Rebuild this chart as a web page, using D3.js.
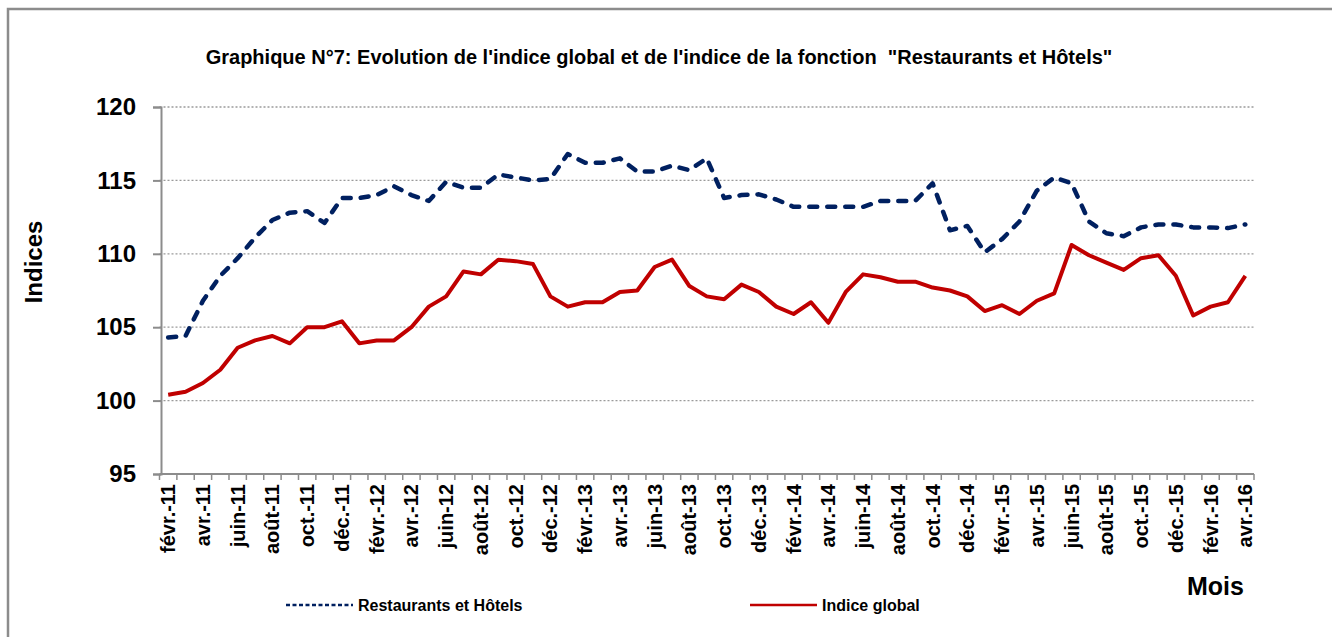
<!DOCTYPE html>
<html>
<head>
<meta charset="utf-8">
<script src="https://cdn.jsdelivr.net/npm/d3@7"></script>
<style>
  body { margin: 0; background: #fff; }
  .narrow { font-family: "Liberation Sans Narrow", "Arial Narrow", "Liberation Sans", sans-serif; font-weight: bold; }
  .wide { font-family: "Liberation Sans", Arial, sans-serif; font-weight: bold; }
</style>
</head>
<body>
<div id="chart"></div>
<script>
// mois (févr.-11 .. avr.-16)
const months = [
  "févr.-11","mars-11","avr.-11","mai-11","juin-11","juil.-11","août-11","sept.-11","oct.-11","nov.-11","déc.-11",
  "janv.-12","févr.-12","mars-12","avr.-12","mai-12","juin-12","juil.-12","août-12","sept.-12","oct.-12","nov.-12","déc.-12",
  "janv.-13","févr.-13","mars-13","avr.-13","mai-13","juin-13","juil.-13","août-13","sept.-13","oct.-13","nov.-13","déc.-13",
  "janv.-14","févr.-14","mars-14","avr.-14","mai-14","juin-14","juil.-14","août-14","sept.-14","oct.-14","nov.-14","déc.-14",
  "janv.-15","févr.-15","mars-15","avr.-15","mai-15","juin-15","juil.-15","août-15","sept.-15","oct.-15","nov.-15","déc.-15",
  "janv.-16","févr.-16","mars-16","avr.-16"
];

// Restaurants et Hôtels
const restoHotels = [
  104.3, 104.4, 106.8, 108.5, 109.7, 111.1, 112.3, 112.8, 112.9, 112.1, 113.8,
  113.8, 114.0, 114.6, 114.0, 113.6, 114.9, 114.5, 114.5, 115.4, 115.2, 115.0, 115.1,
  116.8, 116.2, 116.2, 116.5, 115.6, 115.6, 116.0, 115.7, 116.5, 113.8, 114.0, 114.05,
  113.7, 113.2, 113.2, 113.2, 113.2, 113.2, 113.6, 113.6, 113.6, 114.8, 111.6, 111.9,
  110.1, 111.0, 112.2, 114.3, 115.2, 114.8, 112.2, 111.4, 111.2, 111.8, 112.0, 112.0,
  111.8, 111.8, 111.75, 112.0
];

// Indice global
const indiceGlobal = [
  100.4, 100.6, 101.2, 102.1, 103.6, 104.1, 104.4, 103.9, 105.0, 105.0, 105.4,
  103.9, 104.1, 104.1, 105.0, 106.4, 107.1, 108.8, 108.6, 109.6, 109.5, 109.3, 107.1,
  106.4, 106.7, 106.7, 107.4, 107.5, 109.1, 109.6, 107.8, 107.1, 106.9, 107.9, 107.4,
  106.4, 105.9, 106.7, 105.3, 107.4, 108.6, 108.4, 108.1, 108.1, 107.7, 107.5, 107.1,
  106.1, 106.5, 105.9, 106.8, 107.3, 110.6, 109.9, 109.4, 108.9, 109.7, 109.9, 108.5,
  105.8, 106.4, 106.7, 108.5
];

const yTicks = [95, 100, 105, 110, 115, 120];

const W = 1332, H = 637;
const margin = {top: 107, right: 78, bottom: 163, left: 159.5};

const svg = d3.select("#chart").append("svg")
    .attr("width", W)
    .attr("height", H);

// cadre
svg.append("rect")
    .attr("x", 8).attr("y", 9)
    .attr("width", W).attr("height", H)
    .attr("fill", "none")
    .attr("stroke", "#8c8c8c")
    .attr("stroke-width", 2.5);

const x = d3.scaleBand()
    .domain(months)
    .range([margin.left, W - margin.right])
    .padding(0);

const y = d3.scaleLinear()
    .domain([95, 120])
    .range([H - margin.bottom, margin.top]);

// grille
svg.append("g")
    .selectAll("line")
    .data(yTicks.filter(d => d > 95))
    .join("line")
    .attr("x1", margin.left)
    .attr("x2", W - margin.right)
    .attr("y1", d => y(d))
    .attr("y2", d => y(d))
    .attr("stroke", "#9a9a9a")
    .attr("stroke-width", 1.3)
    .attr("stroke-dasharray", "2,2");

// axe Y
const yAxis = svg.append("g")
    .attr("transform", `translate(${margin.left + 1.5},0)`)
    .call(d3.axisLeft(y).tickValues(yTicks).tickSize(8).tickPadding(17));
yAxis.select(".domain").attr("stroke", "#8c8c8c").attr("stroke-width", 2);
yAxis.selectAll(".tick line").attr("stroke", "#8c8c8c").attr("stroke-width", 2);
yAxis.selectAll(".tick text")
    .attr("class", "narrow")
    .attr("font-size", 24)
    .attr("fill", "#000");

// axe X
const xAxis = svg.append("g")
    .attr("transform", `translate(0,${y(95)})`);
xAxis.append("line")
    .attr("x1", margin.left).attr("x2", W - margin.right)
    .attr("stroke", "#8c8c8c").attr("stroke-width", 2);
xAxis.selectAll(".xtick")
    .data(months.concat(["end"]))
    .join("line")
    .attr("class", "xtick")
    .attr("x1", d => d === "end" ? W - margin.right : x(d))
    .attr("x2", d => d === "end" ? W - margin.right : x(d))
    .attr("y1", 0).attr("y2", 6)
    .attr("stroke", "#8c8c8c").attr("stroke-width", 1.5);
xAxis.selectAll(".xlabel")
    .data(months.filter((d, i) => i % 2 === 0))
    .join("text")
    .attr("class", "xlabel wide")
    .attr("font-size", 20)
    .attr("text-anchor", "end")
    .attr("transform", d => `translate(${x(d) + x.bandwidth() / 2 + 7},10) rotate(-90)`)
    .text(d => d);

// courbes
const line = d3.line()
    .x((d, i) => x(months[i]) + x.bandwidth() / 2)
    .y(d => y(d));

svg.append("path")
    .datum(indiceGlobal)
    .attr("fill", "none")
    .attr("stroke", "#c00000")
    .attr("stroke-width", 4)
    .attr("stroke-linejoin", "round")
    .attr("d", line);

svg.append("path")
    .datum(restoHotels)
    .attr("fill", "none")
    .attr("stroke", "#002060")
    .attr("stroke-width", 4.5)
    .attr("stroke-linecap", "round")
    .attr("stroke-linejoin", "round")
    .attr("stroke-dasharray", "8,10")
    .attr("d", line);

// titre
svg.append("text")
    .attr("class", "narrow")
    .attr("x", 659)
    .attr("y", 64)
    .attr("text-anchor", "middle")
    .attr("font-size", 20)
    .style("white-space", "pre")
    .text("Graphique N°7: Evolution de l'indice global et de l'indice de la fonction  \"Restaurants et Hôtels\"");

// titres des axes
svg.append("text")
    .attr("class", "narrow")
    .attr("font-size", 24)
    .attr("text-anchor", "middle")
    .attr("transform", "translate(42,262) rotate(-90)")
    .text("Indices");

svg.append("text")
    .attr("class", "narrow")
    .attr("font-size", 25)
    .attr("x", 1187)
    .attr("y", 595)
    .text("Mois");

// légende
const legend = [
  {name: "Restaurants et Hôtels", color: "#002060", dash: "4,2.5", x: 286},
  {name: "Indice global", color: "#c00000", dash: null, x: 750}
];
const lg = svg.append("g").selectAll("g")
    .data(legend)
    .join("g")
    .attr("transform", d => `translate(${d.x},605)`);
lg.append("line")
    .attr("x1", 0).attr("x2", 67)
    .attr("stroke", d => d.color)
    .attr("stroke-width", 2.5)
    .attr("stroke-dasharray", d => d.dash);
lg.append("text")
    .attr("class", "narrow")
    .attr("font-size", 16)
    .attr("x", 72)
    .attr("y", 6)
    .text(d => d.name);
</script>
</body>
</html>
